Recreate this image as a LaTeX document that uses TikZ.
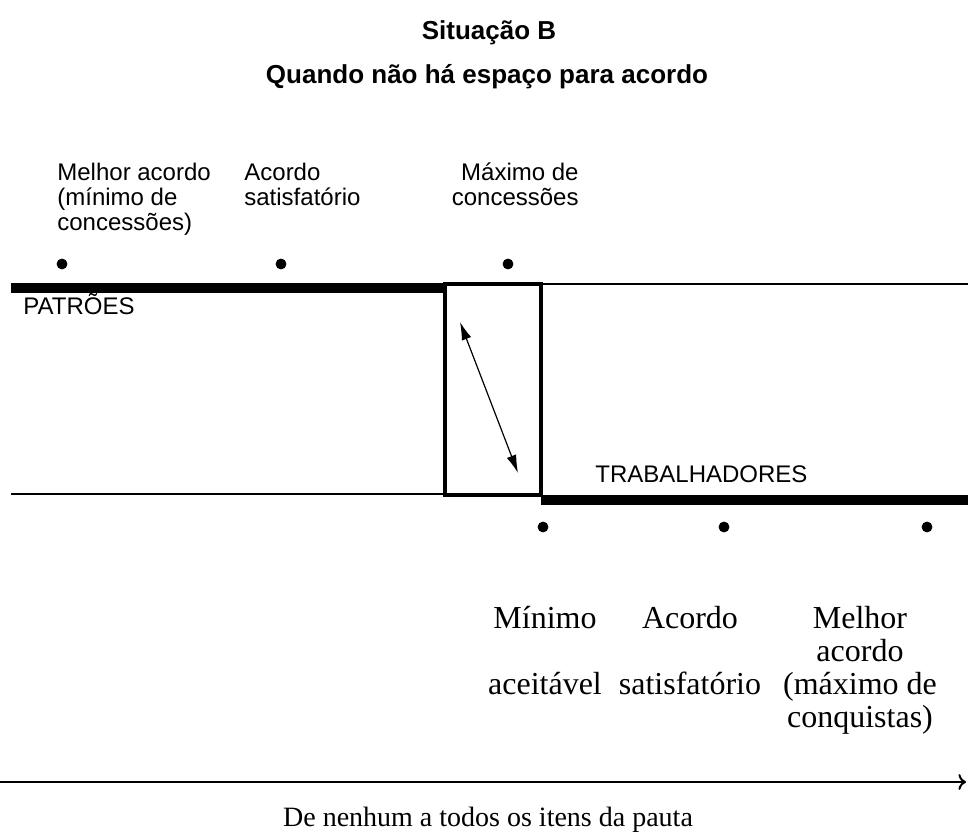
\documentclass[tikz,border=0pt]{standalone}
\usepackage{fontspec}
\setmainfont{Liberation Serif}
\setsansfont{Liberation Sans}
\usepackage{tikz}
\usetikzlibrary{calc}
\usetikzlibrary{arrows,arrows.meta}
\tikzset{
    ttl/.style={font=\sffamily\bfseries\fontsize{13}{15}\selectfont, inner sep=0},
    lbl/.style={font=\sffamily\fontsize{12}{12.5}\selectfont, inner sep=0},
    rlbl/.style={font=\fontsize{16}{16.5}\selectfont, inner sep=0, align=center, anchor=base}
}

\begin{document}
\begin{tikzpicture}[x=0.5pt,y=-0.5pt]
\useasboundingbox (0,0) rectangle (968,833);
\node[ttl] (sit) at (489,33) {Situação B};
\node[ttl] (qnd) at (487,77) {Quando não há espaço para acordo};
\foreach \x/\y/\p in {62/264/pmelhor, 281/264/pacordo, 508/264/pmax, 543/527/tmin, 724/527/tacordo, 927/527/tmelhor}{
    \coordinate (\p) at (\x,\y);
    \draw[fill] (\p) circle (2.5pt);
}
% rotulos de cima (base = ultima linha)
\node[lbl, align=left, anchor=base west] (lmelhor) at (57,231) {Melhor acordo\\(mínimo de\\concessões)};
\node[lbl, align=left, anchor=base west] (lacordo) at (244,206) {Acordo\\satisfatório};
\node[lbl, align=right, anchor=base east] (lmax) at (579,206) {Máximo de\\concessões};
% linhas e caixa
\coordinate (pL) at (11,288);
\coordinate (bTL) at (445,284);
\coordinate (bBR) at (541,495);
\coordinate (tR) at (968,500);
\draw[line width=5pt] (pL) -- (pL -| bTL);
\draw[line width=1pt] (bTL -| bBR) -- (bTL -| tR);
\draw[line width=0.8pt] (11,494) -- (bTL |- 494,494);
\draw[line width=5pt] (bBR |- tR) -- (tR);
\draw[line width=1.6pt] (bTL) rectangle (bBR);
\node[lbl, anchor=base west] (pat) at (23,315) {PATRÕES};
\node[lbl, anchor=base west] (trab) at (595,482) {TRABALHADORES};
\coordinate (aTop) at (460,322);
\coordinate (aBot) at (518,473);
\draw[{Latex[length=9pt,width=5pt]}-{Latex[length=9pt,width=5pt]}, line width=0.6pt] (aTop) -- (aBot);
% rotulos de baixo
\node[rlbl] (rmin) at (545,694) {Mínimo\\[16.5pt]aceitável};
\node[rlbl] (racordo) at (690,694) {Acordo\\[16.5pt]satisfatório};
\node[rlbl] (rmelhor) at (860,727) {Melhor\\acordo\\(máximo de\\conquistas)};
% eixo
\coordinate (eixo0) at (0,782);
\coordinate (eixo1) at (966,782);
\draw[->, line width=1pt] (eixo0) -- (eixo1);
\node[font=\fontsize{14}{16}\selectfont, inner sep=0, anchor=base] (pauta) at (488,826) {De nenhum a todos os itens da pauta};
\end{tikzpicture}
\end{document}
